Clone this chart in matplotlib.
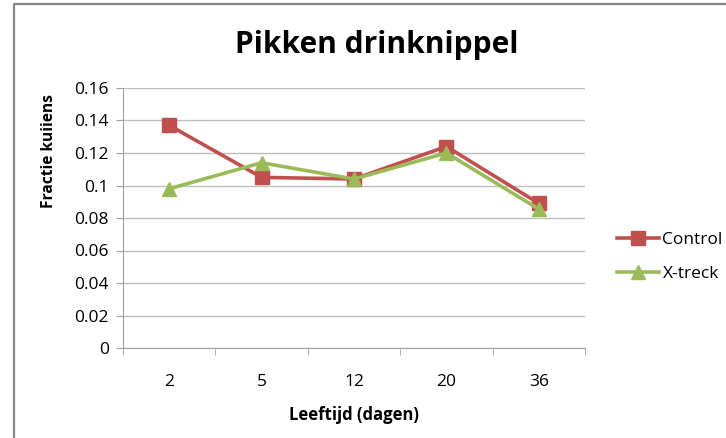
import matplotlib.pyplot as plt
import numpy as np
from matplotlib.lines import Line2D

days = ['2', '5', '12', '20', '36']
control = [0.137, 0.105, 0.104, 0.124, 0.089]
xtreck = [0.098, 0.114, 0.104, 0.120, 0.0855]

plt.rcParams['font.family'] = ['Open Sans', 'DejaVu Sans']

fig = plt.figure(figsize=(7.26, 4.38), dpi=100)
ax = fig.add_axes([123 / 726, 1 - 348 / 438, 462 / 726, 260 / 438])

x = np.arange(len(days))
ax.plot(x, control, color='#C0504D', lw=2.6, marker='s', markersize=10, label='Control')
ax.plot(x, xtreck, color='#9BBB59', lw=2.6, marker='^', markersize=10, label='X-treck')

ax.set_xlim(-0.5, len(days) - 0.5)
ax.set_ylim(0, 0.16)
ax.set_yticks(np.arange(0, 0.161, 0.02))
ax.set_yticklabels(['0', '0.02', '0.04', '0.06', '0.08', '0.1', '0.12', '0.14', '0.16'])
ax.set_xticks(x)
ax.set_xticklabels(days)
ax.set_xticks(np.arange(-0.5, len(days), 1), minor=True)
ax.tick_params(axis='x', which='major', length=0, pad=19, labelsize=12.5)
ax.tick_params(axis='x', which='minor', length=5, color='#A0A0A0', direction='out')
ax.tick_params(axis='y', length=5, color='#A0A0A0', labelsize=12.5, pad=5)
ax.grid(axis='y', color='#BEBEBE', lw=1)
ax.set_axisbelow(True)
for s in ['top', 'right']:
    ax.spines[s].set_visible(False)
for s in ['left', 'bottom']:
    ax.spines[s].set_color('#A0A0A0')

ax.set_xlabel('Leeftijd (dagen)', fontsize=12, fontweight='bold')
ax.xaxis.set_label_coords(0.5, -58 / 260)
ax.set_ylabel('Fractie kuiiens', fontsize=11.2, fontweight='bold')
ax.yaxis.set_label_coords(-66 / 462, 0.756)
fig.text(377 / 726, 1 - 45 / 438, 'Pikken drinknippel', fontsize=21.5, fontweight='bold',
         ha='center', va='center')

ax.legend(loc='center left', bbox_to_anchor=(1.055, 0.35), frameon=False, fontsize=12.5,
          handlelength=2.4, labelspacing=1.0, handletextpad=0.2, borderaxespad=0)

# chart frame, only left and top edges show in the crop
fig.lines.append(Line2D([13.5 / 726, 13.5 / 726, 1], [0, 1 - 3.5 / 438, 1 - 3.5 / 438],
                        transform=fig.transFigure, color='#868686', lw=1.6))

fig.savefig('out.png', dpi=100)
